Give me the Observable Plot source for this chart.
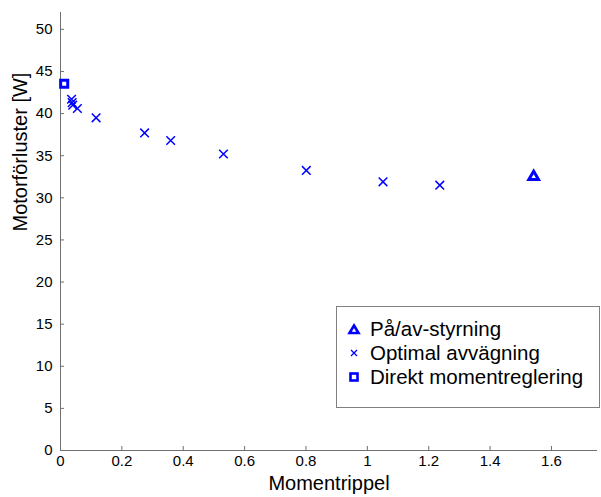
<!DOCTYPE html>
<html><head><meta charset="utf-8">
<script src="https://cdn.jsdelivr.net/npm/d3@7"></script>
<script src="https://cdn.jsdelivr.net/npm/@observablehq/plot@0.6"></script>
<style>
body{margin:0;background:#fff;font-family:Arial,"Liberation Sans",sans-serif;}
#wrap{position:relative;width:601px;height:497px;}
#legend{position:absolute;left:336px;top:306px;width:264px;height:102px;border:1px solid #808080;background:#fff;box-sizing:border-box;font-size:20.5px;color:#000;}
.row{position:absolute;left:0;height:24px;display:flex;align-items:center;white-space:nowrap;}
.row svg{margin-left:10px;margin-right:9px;}
</style></head>
<body><div id="wrap"><div id="chart"></div><div id="legend"></div></div>
<script>
const optX = [0.036, 0.038, 0.040, 0.055, 0.116, 0.274, 0.359, 0.531, 0.801, 1.051, 1.236];
const optY = [41.7, 41.3, 41.0, 40.6, 39.5, 37.7, 36.8, 35.2, 33.25, 31.9, 31.5];
const onoffX = [1.542];
const onoffY = [32.5];
const directX = [0.012];
const directY = [43.55];
const xTicks = [0, 0.2, 0.4, 0.6, 0.8, 1, 1.2, 1.4, 1.6];
const yTicks = [0, 5, 10, 15, 20, 25, 30, 35, 40, 45, 50];
const seriesNames = ["På/av-styrning", "Optimal avvägning", "Direkt momentreglering"];
const blue = "#0000ff";

const opt = optX.map((x, i) => ({x, y: optY[i]}));
const onoff = onoffX.map((x, i) => ({x, y: onoffY[i]}));
const direct = directX.map((x, i) => ({x, y: directY[i]}));

const chart = Plot.plot({
  width: 601, height: 497,
  marginLeft: 60, marginRight: 4, marginTop: 12, marginBottom: 47,
  style: {fontFamily: "Arial, 'Liberation Sans', sans-serif", fontSize: "15px", color: "#000", background: "#fff"},
  x: {domain: [0, 1.75]},
  y: {domain: [0, 52]},
  marks: [
    Plot.axisX({ticks: xTicks, tickSize: -4, tickPadding: 9, tickFormat: d => String(d), stroke: "#707070", fill: "#000", label: null, fontSize: 15}),
    Plot.axisY({ticks: yTicks, tickSize: -4, tickPadding: 12, tickFormat: d => String(d), stroke: "#707070", fill: "#000", label: null, fontSize: 15}),
    Plot.ruleY([0], {stroke: "#707070"}),
    Plot.ruleX([0], {stroke: "#707070", y1: 0, y2: 52}),
    Plot.dot(opt, {x: "x", y: "y", symbol: "times", r: 4, stroke: blue, strokeWidth: 1.5}),
    Plot.dot(onoff, {x: "x", y: "y", symbol: "triangle", r: 3.6, stroke: blue, strokeWidth: 3}),
    Plot.dot(direct, {x: "x", y: "y", symbol: "square", r: 4, stroke: blue, strokeWidth: 3}),
    Plot.text(["Momentrippel"], {frameAnchor: "bottom", dy: 39, fontSize: 20, fill: "#000"}),
    Plot.text(["Motorförluster [W]"], {frameAnchor: "left", dx: -40, rotate: -90, fontSize: 20, fill: "#000"})
  ]
});
document.getElementById("chart").appendChild(chart);

const symbols = [
  '<svg width="14" height="14"><path d="M7,3.5 L11.5,11 L2.5,11 Z" fill="none" stroke="#0000ff" stroke-width="2.6"/></svg>',
  '<svg width="14" height="14"><path d="M4,4 L10,10 M10,4 L4,10" stroke="#0000ff" stroke-width="1.3"/></svg>',
  '<svg width="14" height="14"><rect x="3.5" y="3.5" width="7" height="7" fill="none" stroke="#0000ff" stroke-width="2.6"/></svg>'
];
const leg = document.getElementById("legend");
seriesNames.forEach((name, i) => {
  const r = document.createElement("div");
  r.className = "row";
  r.style.top = (10 + i * 24) + "px";
  r.innerHTML = symbols[i] + "<span>" + name + "</span>";
  leg.appendChild(r);
});
</script></body></html>
